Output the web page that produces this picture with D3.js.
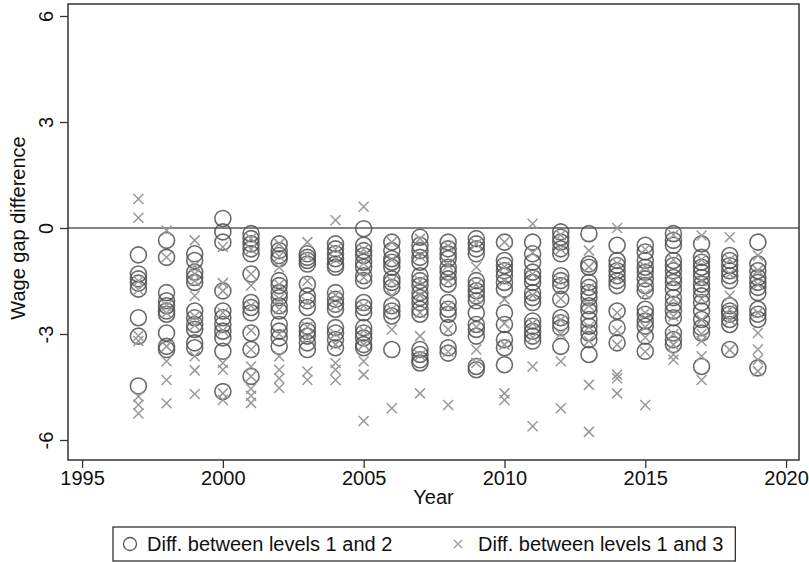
<!DOCTYPE html>
<html>
<head>
<meta charset="utf-8">
<script src="https://cdn.jsdelivr.net/npm/d3@7"></script>
<style>
  body { margin: 0; background: #fff; }
  text { font-family: "Liberation Sans", Arial, sans-serif; fill: #111; }
</style>
</head>
<body>
<script>
var width = 809,
    height = 562;

// ---- data ----
var years = [1997, 1998, 1999, 2000, 2001, 2002, 2003, 2004, 2005, 2006, 2007, 2008,
             2009, 2010, 2011, 2012, 2013, 2014, 2015, 2016, 2017, 2018, 2019];

// diff. between levels 1 and 2 (circles)
var lvl12 = [
  [-0.76, -1.30, -1.44, -1.56, -1.73, -2.54, -3.06, -4.47],
  [-0.35, -0.83, -1.83, -2.06, -2.20, -2.35, -2.44, -2.97, -3.35, -3.44],
  [-0.73, -0.92, -1.25, -1.40, -1.54, -2.35, -2.54, -2.73, -2.87, -3.25, -3.39],
  [0.27, -0.11, -0.40, -1.78, -2.35, -2.54, -2.73, -2.92, -3.11, -3.49, -4.63],
  [-0.16, -0.30, -0.45, -0.59, -0.73, -1.30, -2.11, -2.25, -2.40, -2.97, -3.44, -4.20],
  [-0.45, -0.64, -0.78, -0.87, -1.49, -1.63, -1.83, -1.97, -2.20, -2.35, -2.73, -2.92, -3.11, -3.35],
  [-0.73, -0.83, -0.92, -1.02, -1.59, -1.92, -2.06, -2.25, -2.78, -2.92, -3.06, -3.25, -3.44],
  [-0.45, -0.59, -0.73, -0.87, -1.02, -1.11, -1.83, -2.02, -2.16, -2.30, -2.82, -2.97, -3.16, -3.39],
  [-0.02, -0.49, -0.64, -0.78, -0.97, -1.11, -1.35, -1.49, -2.11, -2.25, -2.40, -2.82, -2.97, -3.11, -3.30, -3.39],
  [-0.40, -0.64, -0.87, -0.97, -1.11, -1.44, -1.54, -1.68, -2.20, -2.35, -2.49, -3.44],
  [-0.26, -0.49, -0.64, -0.83, -0.97, -1.35, -1.49, -1.63, -1.83, -1.97, -2.11, -2.30, -2.44, -3.44, -3.58, -3.73, -3.82],
  [-0.40, -0.59, -0.73, -0.87, -1.11, -1.25, -1.44, -1.59, -2.11, -2.30, -2.44, -2.82, -3.39, -3.54],
  [-0.30, -0.45, -0.59, -0.73, -1.49, -1.63, -1.78, -1.92, -2.06, -2.40, -2.73, -2.87, -3.06, -3.92, -4.01],
  [-0.40, -0.92, -1.06, -1.21, -1.35, -1.54, -1.73, -2.40, -2.73, -3.16, -3.39, -3.87],
  [-0.40, -0.73, -0.97, -1.25, -1.40, -1.54, -1.83, -1.97, -2.11, -2.63, -2.78, -2.92, -3.06, -3.20],
  [-0.11, -0.26, -0.40, -0.59, -0.73, -1.35, -1.49, -1.63, -2.02, -2.54, -2.68, -2.82, -3.35],
  [-0.16, -1.02, -1.11, -1.54, -1.68, -1.83, -1.97, -2.20, -2.35, -2.59, -2.78, -2.97, -3.16, -3.58],
  [-0.49, -0.92, -1.06, -1.21, -1.35, -1.49, -1.63, -2.35, -2.82, -3.25],
  [-0.49, -0.68, -0.92, -1.11, -1.25, -1.44, -1.63, -1.78, -2.30, -2.44, -2.63, -2.78, -3.06, -3.49],
  [-0.16, -0.35, -0.49, -0.92, -1.06, -1.21, -1.40, -1.54, -1.73, -1.97, -2.16, -2.35, -2.54, -2.97, -3.16, -3.30],
  [-0.45, -0.83, -0.97, -1.11, -1.25, -1.40, -1.59, -1.73, -1.92, -2.11, -2.35, -2.59, -2.82, -2.97, -3.92],
  [-0.78, -0.92, -1.06, -1.21, -1.35, -1.49, -2.20, -2.35, -2.44, -2.59, -2.73, -3.44],
  [-0.40, -1.02, -1.21, -1.40, -1.54, -1.68, -1.83, -2.30, -2.44, -2.59, -3.96]
];

// diff. between levels 1 and 3 (crosses)
var lvl13 = [
  [0.82, 0.29, -1.50, -1.75, -3.05, -3.20, -4.77, -5.00, -5.25],
  [-0.07, -0.83, -2.20, -2.40, -3.35, -3.77, -4.30, -4.96],
  [-0.35, -1.06, -1.30, -1.50, -1.92, -2.50, -2.75, -3.63, -4.03, -4.70],
  [-0.54, -1.56, -1.78, -2.40, -2.90, -3.82, -4.01, -4.68, -4.87],
  [-0.30, -0.60, -1.30, -1.63, -2.20, -2.90, -3.44, -3.92, -4.20, -4.55, -4.75, -4.95],
  [-0.45, -0.80, -1.11, -1.60, -2.00, -2.30, -3.00, -3.63, -4.01, -4.25, -4.53],
  [-0.40, -0.80, -1.50, -2.10, -2.80, -3.10, -4.06, -4.30],
  [0.22, -0.60, -0.90, -1.90, -2.20, -3.00, -3.30, -3.82, -4.01, -4.30],
  [0.60, -0.60, -1.00, -1.40, -2.20, -2.90, -3.30, -3.77, -4.15, -5.46],
  [-0.40, -0.90, -1.50, -1.92, -2.30, -2.87, -5.10],
  [-0.30, -0.80, -1.50, -1.90, -2.40, -3.06, -3.60, -4.68],
  [-0.50, -1.06, -1.50, -2.20, -2.87, -3.50, -5.01],
  [-0.45, -1.11, -1.60, -2.00, -2.80, -3.44, -3.82],
  [-0.40, -1.10, -1.50, -2.02, -2.70, -3.30, -4.68, -4.87],
  [0.12, -0.70, -1.30, -1.90, -2.70, -3.10, -3.92, -5.61],
  [-0.20, -0.60, -1.50, -2.00, -2.60, -3.00, -3.77, -5.10],
  [-0.64, -1.10, -1.70, -2.20, -2.80, -3.20, -4.44, -5.77],
  [0.00, -1.00, -1.40, -2.40, -2.90, -3.30, -4.15, -4.25, -4.68],
  [-0.60, -1.10, -1.50, -1.87, -2.40, -2.80, -3.10, -3.50, -5.01],
  [-0.20, -0.90, -1.50, -2.00, -2.50, -3.00, -3.30, -3.58, -3.73],
  [-0.21, -0.90, -1.50, -2.00, -2.60, -3.00, -3.20, -3.63, -4.30],
  [-0.26, -0.90, -1.30, -1.92, -2.30, -2.60, -3.45],
  [-0.78, -1.20, -1.60, -2.40, -2.97, -3.44, -3.73, -4.05]
];

var xTicks = [1995, 2000, 2005, 2010, 2015, 2020];
var yTicks = [-6, -3, 0, 3, 6];

/* ============================ SETUP ============================ */
var frame = {left: 68, top: 4, right: 799, bottom: 460};

var x = d3.scaleLinear().domain([1994.5, 2020.46]).range([frame.left, frame.right]);
var y = d3.scaleLinear().domain([6, -6]).range([16, 440]);

var svg = d3.select('body').append('svg')
    .attr('width', width)
    .attr('height', height);

// flatten into points
var circlePts = [], crossPts = [];
years.forEach(function(yr, i) {
  lvl12[i].forEach(function(v) { circlePts.push({year: yr, v: v}); });
  lvl13[i].forEach(function(v) { crossPts.push({year: yr, v: v}); });
});

/* ============================ AXES ============================ */
var xAxis = svg.append('g')
    .attr('transform', 'translate(0,' + frame.bottom + ')')
    .call(d3.axisBottom(x).tickValues(xTicks).tickSize(8).tickPadding(3).tickFormat(d3.format('d')));
xAxis.select('.domain').remove();
xAxis.selectAll('line').attr('stroke', '#333').attr('stroke-width', 1.3);
xAxis.selectAll('text').attr('font-size', 20).attr('fill', '#111');

var yAxis = svg.append('g')
    .attr('transform', 'translate(' + frame.left + ',0)')
    .call(d3.axisLeft(y).tickValues(yTicks).tickSize(8)
      .tickFormat(function(d) { return String(d); }));   // plain hyphen, like Stata
yAxis.select('.domain').remove();
yAxis.selectAll('line').attr('stroke', '#333').attr('stroke-width', 1.3);
yAxis.selectAll('text')
    .attr('font-size', 20)
    .attr('fill', '#111')
    .attr('x', null).attr('dy', null)
    .attr('text-anchor', 'middle')
    .attr('transform', 'translate(-15,0) rotate(-90)')
    .attr('y', 0);

svg.append('text')
    .attr('text-anchor', 'middle')
    .attr('font-size', 20)
    .attr('transform', 'translate(25,' + y(0) + ') rotate(-90)')
    .text('Wage gap difference');

svg.append('text')
    .attr('x', (frame.left + frame.right) / 2)
    .attr('y', 504)
    .attr('text-anchor', 'middle')
    .attr('font-size', 20)
    .text('Year');

// zero line
svg.append('line')
    .attr('x1', frame.left).attr('x2', frame.right)
    .attr('y1', y(0)).attr('y2', y(0))
    .attr('stroke', '#5a5a5a').attr('stroke-width', 1.7);

/* ============================ MARKERS ============================ */
svg.append('g').selectAll('circle')
    .data(circlePts)
  .enter().append('circle')
    .attr('cx', function(d) { return x(d.year); })
    .attr('cy', function(d) { return y(d.v); })
    .attr('r', 8)
    .attr('fill', 'none')
    .attr('stroke', '#505050')
    .attr('stroke-opacity', 0.85)
    .attr('stroke-width', 1.6);

var cs = 5;
svg.append('g').selectAll('path')
    .data(crossPts)
  .enter().append('path')
    .attr('d', function(d) {
      var cx = x(d.year), cy = y(d.v);
      return 'M' + (cx - cs) + ',' + (cy - cs) + 'L' + (cx + cs) + ',' + (cy + cs) +
             'M' + (cx - cs) + ',' + (cy + cs) + 'L' + (cx + cs) + ',' + (cy - cs);
    })
    .attr('stroke', '#999')
    .attr('stroke-width', 1.5)
    .attr('fill', 'none');

// plot frame
svg.append('rect')
    .attr('x', frame.left).attr('y', frame.top)
    .attr('width', frame.right - frame.left)
    .attr('height', frame.bottom - frame.top)
    .attr('fill', 'none')
    .attr('stroke', '#333')
    .attr('stroke-width', 1.5);

/* ============================ LEGEND ============================ */
var leg = svg.append('g');
var legBox = leg.append('rect')
    .attr('x', 113).attr('y', 527).attr('height', 34)
    .attr('fill', 'none').attr('stroke', '#333').attr('stroke-width', 1.3);

leg.append('circle')
    .attr('cx', 130).attr('cy', 544).attr('r', 6.5)
    .attr('fill', 'none').attr('stroke', '#555').attr('stroke-width', 1.3);
leg.append('text')
    .attr('x', 147).attr('y', 551)
    .attr('font-size', 20)
    .text('Diff. between levels 1 and 2');

leg.append('path')
    .attr('d', 'M454,540L462,548M454,548L462,540')
    .attr('stroke', '#999').attr('stroke-width', 1.3);
var t2 = leg.append('text')
    .attr('x', 478).attr('y', 551)
    .attr('font-size', 20)
    .text('Diff. between levels 1 and 3');

var bb = t2.node().getBBox();
legBox.attr('width', bb.x + bb.width + 12 - 113);
</script>
</body>
</html>
